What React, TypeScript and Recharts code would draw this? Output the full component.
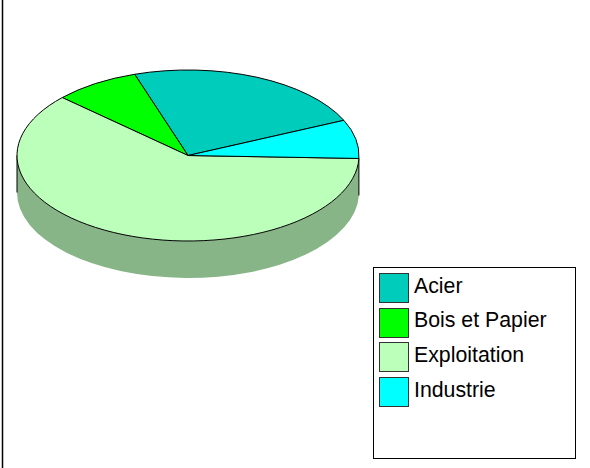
import React from 'react';
import { PieChart, Pie, Legend } from 'recharts';

const categories = ['Acier', 'Bois et Papier', 'Exploitation', 'Industrie'];
const shares = [23.3, 8.1, 61.3, 7.3];
const sliceColors = ['#00CCBB', '#00FF00', '#BBFFBB', '#00FFFF'];
const wallColors = ['', '', '#88B588', ''];

const chartData = categories.map((name, i) => ({
    name,
    value: shares[i],
    fill: sliceColors[i],
    wall: wallColors[i],
}));

const TILT = 0.5;
const DEPTH = 37;

// flatten the sector into an ellipse and add the side wall for the front part
const PieSlice = (props: any) => {
    const { cx, cy, outerRadius, startAngle, endAngle, fill, payload } = props;
    const rx = outerRadius;
    const ry = outerRadius * TILT;
    const at = (deg: number, dy = 0) => {
        const a = (deg * Math.PI) / 180;
        return `${cx + rx * Math.cos(a)} ${cy - ry * Math.sin(a) + dy}`;
    };
    const lo = Math.min(startAngle, endAngle);
    const hi = Math.max(startAngle, endAngle);
    const large = hi - lo > 180 ? 1 : 0;
    const top = `M ${cx} ${cy} L ${at(lo)} A ${rx} ${ry} 0 ${large} 0 ${at(hi)} Z`;

    const wall = payload?.wall ?? props.wall;
    const wallFrom = Math.max(lo, 180);
    const wallTo = Math.min(hi, 360);

    return (
        <g>
            {wall && wallTo > wallFrom && (
                <>
                    <path
                        d={`M ${at(wallFrom)} A ${rx} ${ry} 0 0 0 ${at(wallTo)} L ${at(wallTo, DEPTH)} A ${rx} ${ry} 0 0 1 ${at(wallFrom, DEPTH)} Z`}
                        fill={wall}
                        stroke="none"
                    />
                    <path d={`M ${at(wallFrom)} L ${at(wallFrom, DEPTH)} M ${at(wallTo)} L ${at(wallTo, DEPTH)}`} stroke="#000" fill="none" />
                </>
            )}
            <path d={top} fill={fill} stroke="#000" strokeWidth={1} />
        </g>
    );
};

const LegendBox = ({ payload }: any) => (
    <div
        style={{
            width: 201,
            height: 187,
            border: '1px solid #000',
            background: '#fff',
            paddingTop: 3,
            boxSizing: 'content-box',
            fontFamily: '"Liberation Sans", Arial, sans-serif',
            fontSize: 21.3,
            color: '#000',
        }}
    >
        {(payload || []).map((entry: any) => (
            <div key={entry.value} style={{ display: 'flex', alignItems: 'center', height: 34.6, marginLeft: 5 }}>
                <span
                    style={{
                        display: 'inline-block',
                        width: 28,
                        height: 28,
                        border: '1px solid #333',
                        background: entry.payload?.fill ?? entry.color,
                        marginRight: 5,
                    }}
                />
                <span style={{ position: 'relative', top: -2 }}>{entry.value}</span>
            </div>
        ))}
    </div>
);

export default function App() {
    return (
        <div style={{ position: 'absolute', left: 0, top: 0, width: 590, height: 468, background: '#fff' }}>
            <PieChart width={590} height={468} margin={{ top: 0, right: 0, bottom: 0, left: 0 }}>
                <line x1={2.5} y1={0} x2={2.5} y2={468} stroke="#000" strokeWidth={1.5} />
                <Pie
                    data={chartData}
                    dataKey="value"
                    nameKey="name"
                    cx={188}
                    cy={155.5}
                    outerRadius={171}
                    startAngle={24.3}
                    endAngle={384.3}
                    paddingAngle={0}
                    isAnimationActive={false}
                    shape={PieSlice}
                />
                <Legend
                    content={<LegendBox />}
                    layout="vertical"
                    wrapperStyle={{ position: 'absolute', left: 373, top: 267, width: 203, height: 191, bottom: 'auto', right: 'auto' }}
                />
            </PieChart>
        </div>
    );
}
